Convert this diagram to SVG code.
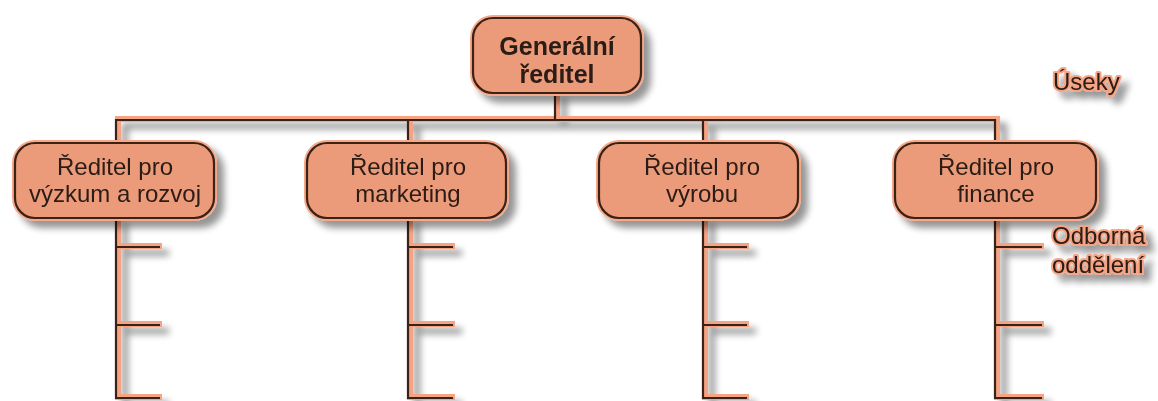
<svg xmlns="http://www.w3.org/2000/svg" width="1158" height="401" viewBox="0 0 1158 401">
  <defs>
    <!-- soft grey drop shadow used by boxes, lines and free labels -->
    <filter id="shadow" filterUnits="userSpaceOnUse" x="0" y="0" width="1158" height="401">
      <feGaussianBlur in="SourceAlpha" stdDeviation="3.5"/>
      <feOffset dx="7" dy="7" result="off"/>
      <feComponentTransfer in="off" result="shade">
        <feFuncA type="linear" slope="0.42"/>
      </feComponentTransfer>
      <feMerge>
        <feMergeNode in="shade"/>
        <feMergeNode in="SourceGraphic"/>
      </feMerge>
    </filter>
  </defs>
  <style>
    .halo { fill: none; stroke: #F6A383; stroke-width: 6; }
    .ink { fill: none; stroke: #3A2216; stroke-width: 2.2; }
    .box-halo { fill: none; stroke: #F7A889; stroke-width: 6; }
    .box { fill: #EC9B7A; stroke: #3A2216; stroke-width: 2.2; }
    .label { font-family: "Liberation Sans", Arial, sans-serif; font-size: 24px; fill: #2A1A12; text-anchor: middle; }
    .bold { font-weight: bold; font-size: 25px; }
    .note { font-family: "Liberation Sans", Arial, sans-serif; font-size: 24px; fill: #2A1A12; stroke: #F6A383; stroke-width: 4; paint-order: stroke; stroke-linejoin: round; }
  </style>

  <rect width="1158" height="401" fill="#FFFFFF"/>

  <!-- connectors: salmon band under a dark rule -->
  <g id="connectors" filter="url(#shadow)">
    <g class="halo" transform="translate(2,-1)">
      <path d="M555,93 V120"/>
      <path d="M116,143 V120 H995 V143"/>
      <path d="M408,120 V143 M703,120 V143"/>
      <path d="M116,218 V398 H160 M116,247 H160 M116,325 H160"/>
      <path d="M408,218 V398 H453 M408,247 H453 M408,325 H453"/>
      <path d="M703,218 V398 H747 M703,247 H747 M703,325 H747"/>
      <path d="M995,218 V398 H1042 M995,247 H1042 M995,325 H1042"/>
    </g>
    <g class="ink">
      <path d="M555,93 V120"/>
      <path d="M116,143 V120 H995 V143"/>
      <path d="M408,120 V143 M703,120 V143"/>
      <path d="M116,218 V398 H160 M116,247 H160 M116,325 H160"/>
      <path d="M408,218 V398 H453 M408,247 H453 M408,325 H453"/>
      <path d="M703,218 V398 H747 M703,247 H747 M703,325 H747"/>
      <path d="M995,218 V398 H1042 M995,247 H1042 M995,325 H1042"/>
    </g>
  </g>

  <!-- top: general director -->
  <g id="node-generalni" filter="url(#shadow)">
    <rect class="box-halo" x="473" y="18" width="168" height="75" rx="20"/>
    <rect class="box" x="473" y="18" width="168" height="75" rx="20"/>
    <text class="label bold" x="557" y="55">Generální</text>
    <text class="label bold" x="557" y="83">ředitel</text>
  </g>

  <!-- division directors -->
  <g id="node-vyzkum" filter="url(#shadow)">
    <rect class="box-halo" x="15" y="143" width="199" height="75" rx="20"/>
    <rect class="box" x="15" y="143" width="199" height="75" rx="20"/>
    <text class="label" x="115" y="175">Ředitel pro</text>
    <text class="label" x="115" y="202">výzkum a rozvoj</text>
  </g>

  <g id="node-marketing" filter="url(#shadow)">
    <rect class="box-halo" x="307" y="143" width="199" height="75" rx="20"/>
    <rect class="box" x="307" y="143" width="199" height="75" rx="20"/>
    <text class="label" x="408" y="175">Ředitel pro</text>
    <text class="label" x="408" y="202">marketing</text>
  </g>

  <g id="node-vyroba" filter="url(#shadow)">
    <rect class="box-halo" x="599" y="143" width="199" height="75" rx="20"/>
    <rect class="box" x="599" y="143" width="199" height="75" rx="20"/>
    <text class="label" x="702" y="175">Ředitel pro</text>
    <text class="label" x="702" y="202">výrobu</text>
  </g>

  <g id="node-finance" filter="url(#shadow)">
    <rect class="box-halo" x="895" y="143" width="201" height="75" rx="20"/>
    <rect class="box" x="895" y="143" width="201" height="75" rx="20"/>
    <text class="label" x="996" y="175">Ředitel pro</text>
    <text class="label" x="996" y="202">finance</text>
  </g>

  <!-- side captions -->
  <g id="label-useky" filter="url(#shadow)">
    <text class="note" x="1053" y="90">Úseky</text>
  </g>
  <g id="label-oddeleni" filter="url(#shadow)">
    <text class="note" x="1052" y="244">Odborná</text>
    <text class="note" x="1052" y="273">oddělení</text>
  </g>
</svg>
